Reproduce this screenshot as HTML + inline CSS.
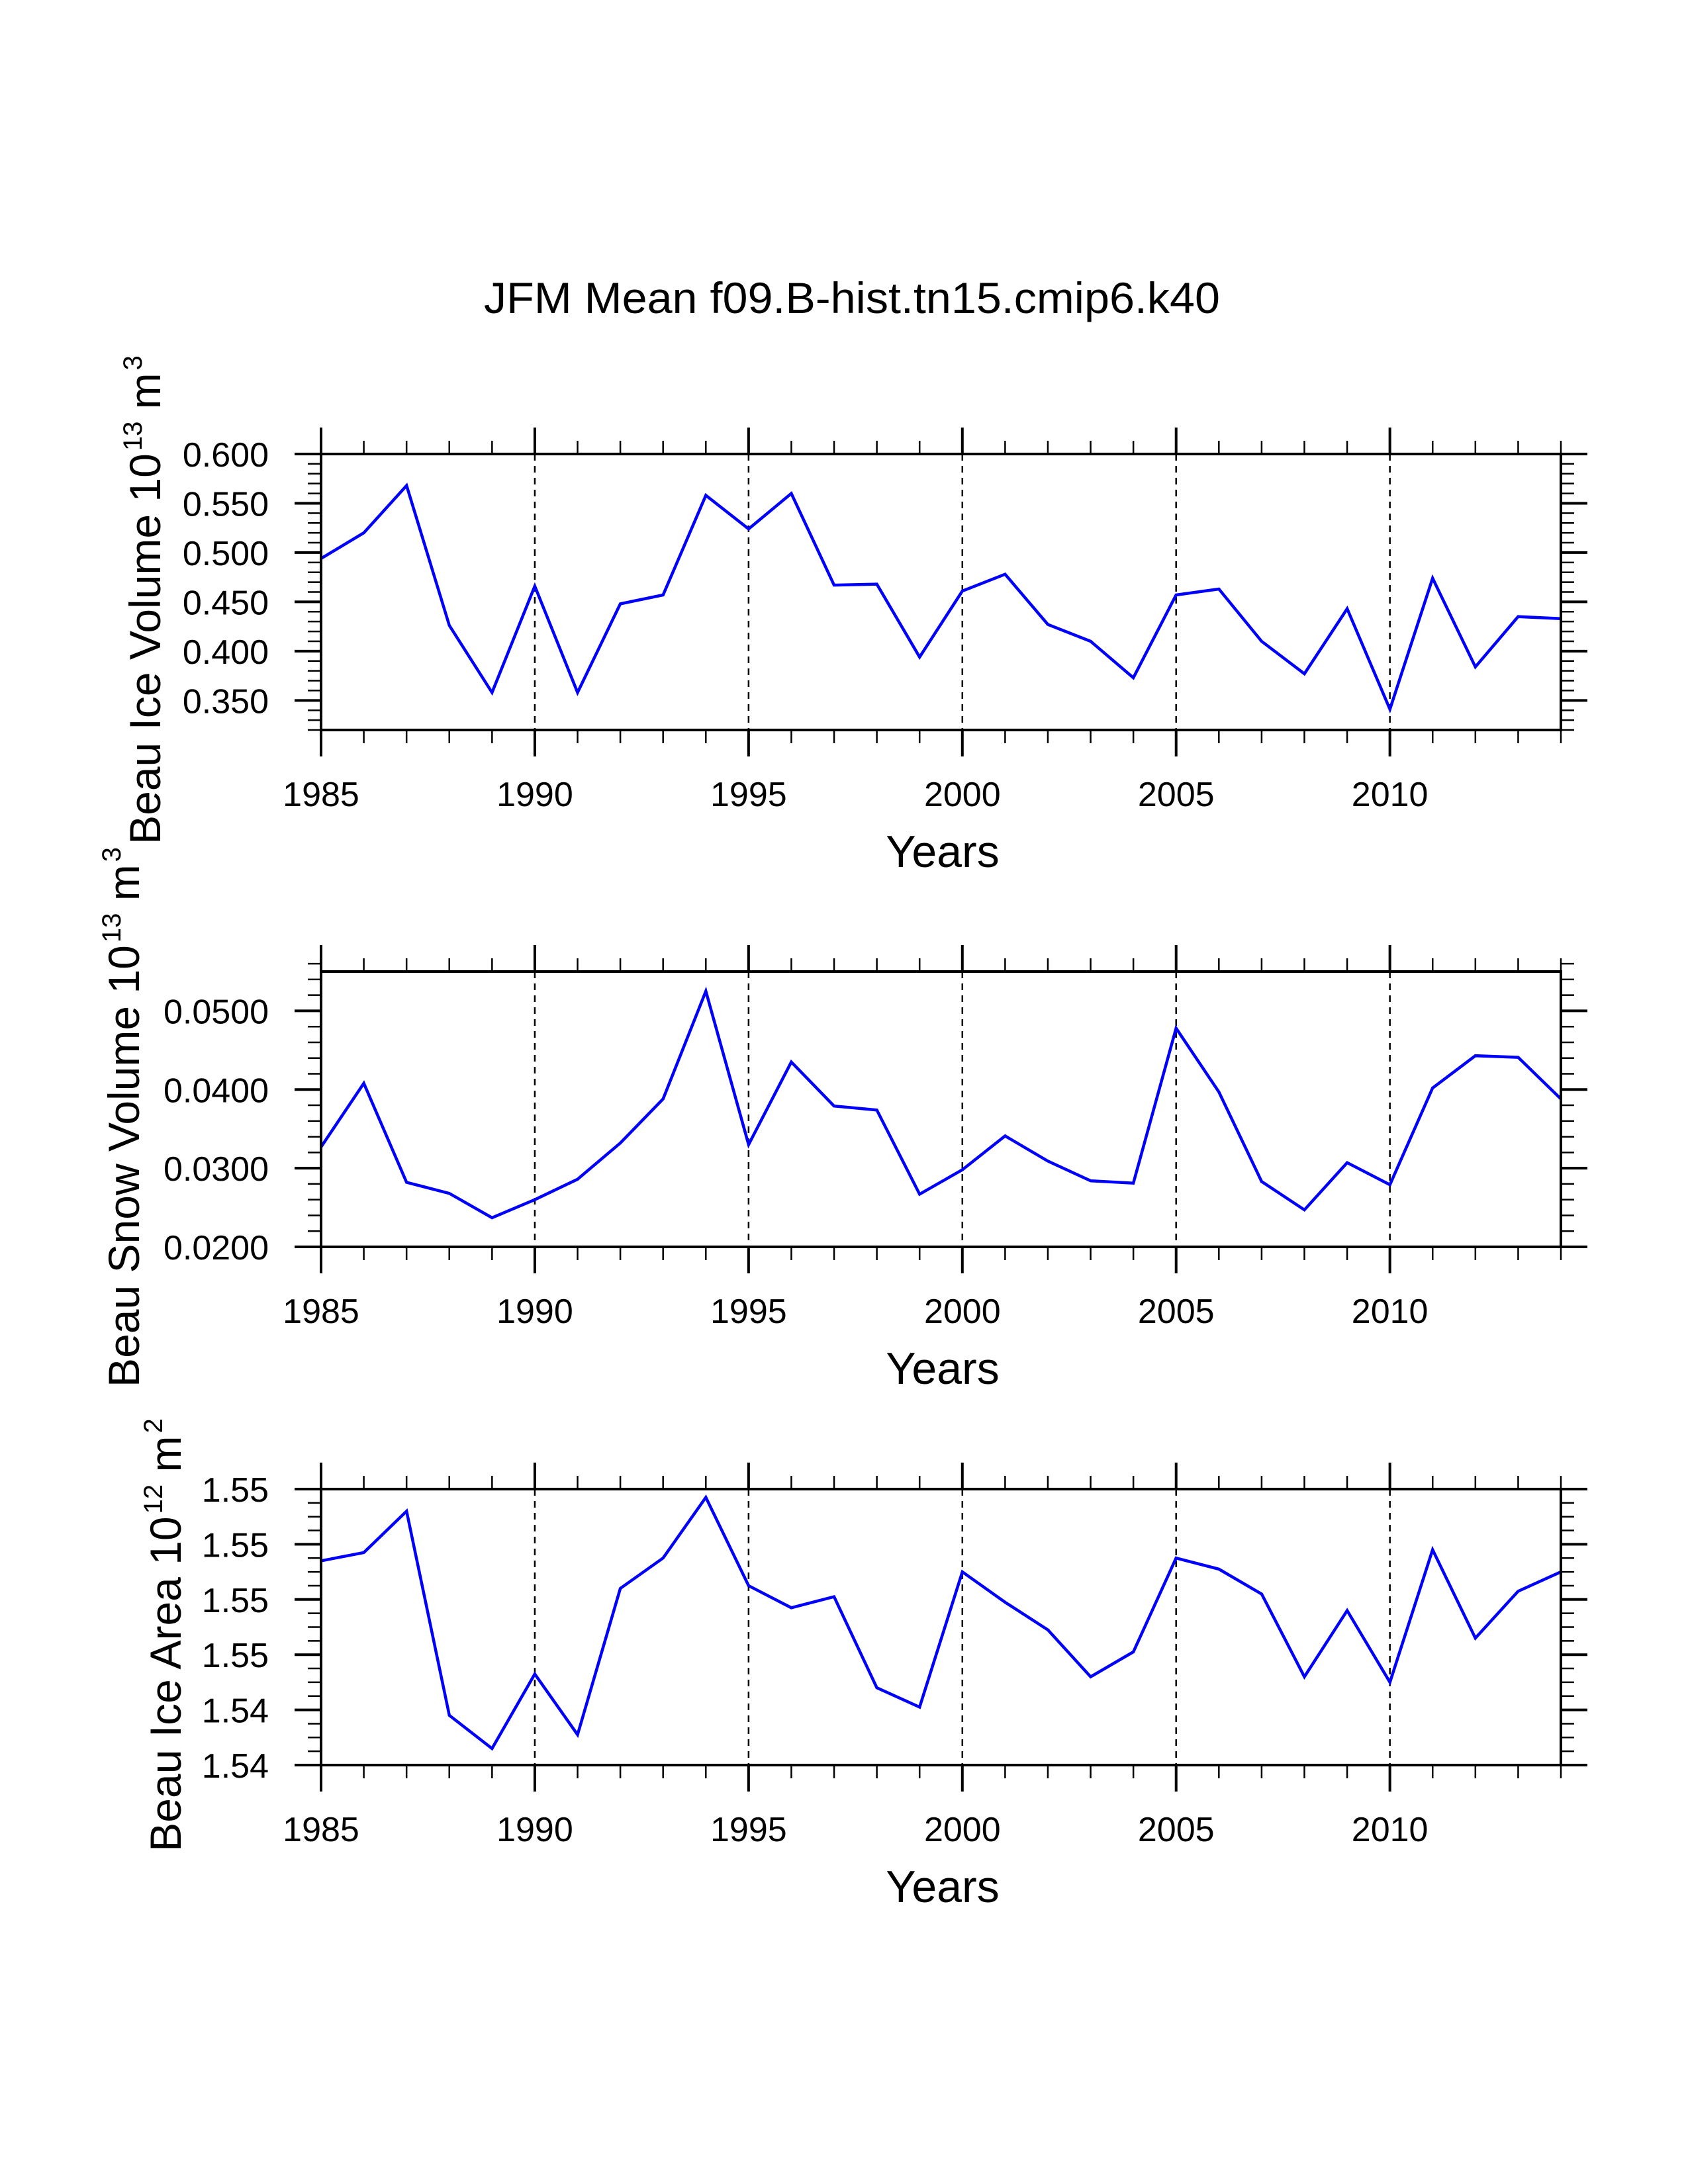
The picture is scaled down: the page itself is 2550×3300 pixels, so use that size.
<!DOCTYPE html>
<html><head><meta charset="utf-8"><style>
html,body{margin:0;padding:0;background:#fff;}
svg{display:block;font-family:"Liberation Sans",sans-serif;}
</style></head><body>
<svg id="chart" width="2550" height="3300" viewBox="0 0 2550 3300" xmlns="http://www.w3.org/2000/svg">
<rect width="2550" height="3300" fill="#fff"/>
<text x="731" y="473" font-size="66" textLength="1112" lengthAdjust="spacingAndGlyphs">JFM Mean f09.B-hist.tn15.cmip6.k40</text>
</svg>
<script>
const years = [1985,1986,1987,1988,1989,1990,1991,1992,1993,1994,1995,1996,1997,1998,1999,2000,2001,2002,2003,2004,2005,2006,2007,2008,2009,2010,2011,2012,2013,2014];
const iceVolume = [0.494,0.520,0.568,0.426,0.358,0.466,0.358,0.448,0.457,0.558,0.524,0.560,0.467,0.468,0.394,0.461,0.478,0.427,0.410,0.373,0.457,0.463,0.410,0.377,0.443,0.341,0.474,0.384,0.435,0.433];
const snowVolume = [0.0327,0.0408,0.0282,0.0268,0.0237,0.0260,0.0286,0.0332,0.0388,0.0525,0.0330,0.0435,0.0379,0.0374,0.0267,0.0298,0.0341,0.0309,0.0284,0.0281,0.0478,0.0397,0.0283,0.0247,0.0307,0.0279,0.0402,0.0443,0.0441,0.0388];
const iceArea = [1.5474,1.5477,1.5492,1.5418,1.5406,1.5433,1.5411,1.5464,1.5475,1.5497,1.5465,1.5457,1.5461,1.5428,1.5421,1.5470,1.5459,1.5449,1.5432,1.5441,1.5475,1.5471,1.5462,1.5432,1.5456,1.5430,1.5478,1.5446,1.5463,1.5470];
const xTickLabels = ["1985","1990","1995","2000","2005","2010"];
const iceVolTicks = [0.35,0.40,0.45,0.50,0.55,0.60];
const iceVolTickLabels = ["0.350","0.400","0.450","0.500","0.550","0.600"];
const snowTicks = [0.02,0.03,0.04,0.05];
const snowTickLabels = ["0.0200","0.0300","0.0400","0.0500"];
const areaTicks = [1.540,1.542,1.544,1.546,1.548,1.550];
const areaTickLabels = ["1.54","1.54","1.55","1.55","1.55","1.55"];

const NS = "http://www.w3.org/2000/svg";
const svg = document.getElementById('chart');
const X0 = 485, X1 = 2358, YR0 = 1985, YR1 = 2014;
function xs(yr){ return X0 + (yr - YR0) / (YR1 - YR0) * (X1 - X0); }
function mk(tag, attrs, parent){
  const e = document.createElementNS(NS, tag);
  for (const k in attrs) e.setAttribute(k, attrs[k]);
  (parent || svg).appendChild(e);
  return e;
}

const panels = [
  {name:'ice-volume', top:686, bot:1103, ymin:0.32, ymax:0.60, ticks:iceVolTicks, labels:iceVolTickLabels, minor:0.01, data:iceVolume, title:['Beau Ice Volume 10','13',' m','3'], tx:242},
  {name:'snow-volume', top:1468, bot:1884, ymin:0.02, ymax:0.055, ticks:snowTicks, labels:snowTickLabels, minor:0.002, data:snowVolume, title:['Beau Snow Volume 10','13',' m','3'], tx:210},
  {name:'ice-area', top:2250, bot:2667, ymin:1.540, ymax:1.550, ticks:areaTicks, labels:areaTickLabels, minor:0.0005, data:iceArea, title:['Beau Ice Area 10','12',' m','2'], tx:273}
];

panels.forEach(p => {
  const g = mk('g', {});
  
  
  const ys = v => p.bot - (v - p.ymin) / (p.ymax - p.ymin) * (p.bot - p.top);
  for (let yr = 1990; yr <= 2010; yr += 5) {
    const l = mk('line', {x1:xs(yr), x2:xs(yr), y1:p.top, y2:p.bot, stroke:'#000', 'stroke-width':2.5, 'stroke-dasharray':'10,8'}, g);
    
    
  }
  const pts = years.map((yr, i) => xs(yr).toFixed(1) + ',' + ys(p.data[i]).toFixed(1)).join(' ');
  const pl = mk('polyline', {points:pts, fill:'none', stroke:'#0000ff', 'stroke-width':4.5, 'stroke-linejoin':'miter'}, g);
  
  
  const fr = mk('rect', {x:X0, y:p.top, width:X1-X0, height:p.bot-p.top, fill:'none', stroke:'#000', 'stroke-width':4}, g);
  
  
  years.forEach(yr => {
    const major = (yr % 5 === 0);
    const len = major ? 40 : 20;
    const w = major ? 4 : 2.5;
    mk('line', {x1:xs(yr), x2:xs(yr), y1:p.bot, y2:p.bot+len, stroke:'#000', 'stroke-width':w}, g);
    mk('line', {x1:xs(yr), x2:xs(yr), y1:p.top, y2:p.top-len, stroke:'#000', 'stroke-width':w}, g);
  });
  xTickLabels.forEach(s => {
    const t = mk('text', {x:xs(+s), y:p.bot+115, 'font-size':52, 'text-anchor':'middle'}, g);
    t.textContent = s;
    
    
  });
  const n = Math.round((p.ymax - p.ymin) / p.minor);
  for (let i = 0; i <= n; i++) {
    const y = ys(p.ymin + i * p.minor);
    mk('line', {x1:X0-20, x2:X0, y1:y, y2:y, stroke:'#000', 'stroke-width':2.5}, g);
    mk('line', {x1:X1, x2:X1+20, y1:y, y2:y, stroke:'#000', 'stroke-width':2.5}, g);
  }
  p.ticks.forEach((v, i) => {
    const y = ys(v);
    mk('line', {x1:X0-40, x2:X0, y1:y, y2:y, stroke:'#000', 'stroke-width':4}, g);
    mk('line', {x1:X1, x2:X1+40, y1:y, y2:y, stroke:'#000', 'stroke-width':4}, g);
    const t = mk('text', {x:406, y:y+19, 'font-size':52, 'text-anchor':'end'}, g);
    t.textContent = p.labels[i];
    
    
  });
  const xt = mk('text', {x:1424, y:p.bot+207, 'font-size':68, 'text-anchor':'middle'}, g);
  xt.textContent = 'Years';
  
  
  const cy = (p.top + p.bot) / 2 + 12;
  const yt = mk('text', {x:0, y:0, 'font-size':66, 'text-anchor':'middle', transform:'translate(' + p.tx + ',' + cy + ') rotate(-90)'}, g);
  
  
  const s1 = mk('tspan', {}, yt); s1.textContent = p.title[0];
  const s2 = mk('tspan', {dy:-28, dx:4, 'font-size':40}, yt); s2.textContent = p.title[1];
  const s3 = mk('tspan', {dy:28}, yt); s3.textContent = p.title[2];
  const s4 = mk('tspan', {dy:-28, dx:4, 'font-size':40}, yt); s4.textContent = p.title[3];
});
</script>
</body></html>
